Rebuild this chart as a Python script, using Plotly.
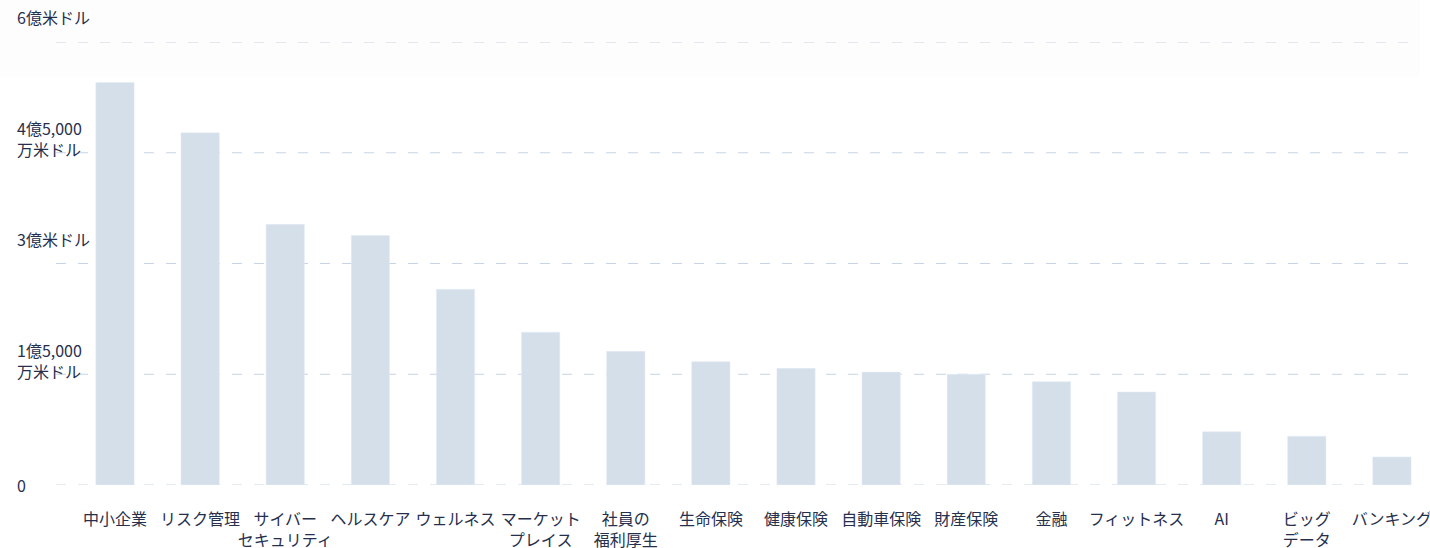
import plotly.graph_objects as go

categories = ["中小企業", "リスク管理", "サイバー<br>セキュリティ", "ヘルスケア", "ウェルネス",
              "マーケット<br>プレイス", "社員の<br>福利厚生", "生命保険", "健康保険", "自動車保険",
              "財産保険", "金融", "フィットネス", "AI", "ビッグ<br>データ", "バンキング"]
values = [545, 477, 353, 338, 265, 207, 181, 167, 158, 153, 150, 140, 126, 72, 66, 38]  # 百万米ドル

y_ticks = [0, 150, 300, 450, 600]
y_tick_labels = ["0", "1億5,000<br>万米ドル", "3億米ドル", "4億5,000<br>万米ドル", "6億米ドル"]
label_shift = [0, 14, 25, 14, 25]

FONT = "Noto Sans CJK JP"
TEXT = "#26304d"
BAR = "#d5dfea"
GRID = "#c6d4e5"

W, H = 1430, 548
ML, MR, MT, MB = 56, 10, 42, 63
PW = W - ML - MR
PH = H - MT - MB

fig = go.Figure(go.Bar(x=list(range(len(categories))), y=values, marker_color=BAR,
                       width=0.45, hoverinfo="skip"))

shapes = [dict(type="rect", xref="paper", yref="paper", x0=-ML / PW, x1=1.0,
               y0=(PH + MT - 77) / PH, y1=(PH + MT) / PH, fillcolor="#fdfdfd",
               line_width=0, layer="below")]
for t in y_ticks:
    shapes.append(dict(type="line", xref="paper", yref="y", x0=0, x1=1, y0=t, y1=t,
                       line=dict(color=GRID, width=1, dash="10px,12px"), layer="below"))

annotations = []
for t, lab, s in zip(y_ticks, y_tick_labels, label_shift):
    annotations.append(dict(xref="paper", yref="y", x=-41 / PW, y=t, text=lab, showarrow=False,
                            xanchor="left", yanchor="middle", align="left", yshift=s,
                            font=dict(family=FONT, size=16, color=TEXT)))

fig.update_layout(
    width=W, height=H,
    margin=dict(l=ML, r=MR, t=MT, b=MB, pad=0, autoexpand=False),
    paper_bgcolor="white", plot_bgcolor="rgba(0,0,0,0)",
    showlegend=False,
    shapes=shapes, annotations=annotations,
    font=dict(family=FONT, size=16, color=TEXT),
    xaxis=dict(range=[-0.693, 15.33], tickmode="array", tickvals=list(range(len(categories))),
               ticktext=categories, showgrid=False, zeroline=False, showline=False,
               ticks="", ticklabelstandoff=23, ticklabeloverflow="allow", automargin=False,
               tickfont=dict(family=FONT, size=16, color=TEXT), tickangle=0),
    yaxis=dict(range=[0, 600], showgrid=False, zeroline=False, showline=False,
               showticklabels=False, ticks="", automargin=False),
    bargap=0.55,
)

fig.write_html("out.html", config={"displayModeBar": False},
               post_script="document.body.style.margin='0';document.body.style.overflow='hidden';")
